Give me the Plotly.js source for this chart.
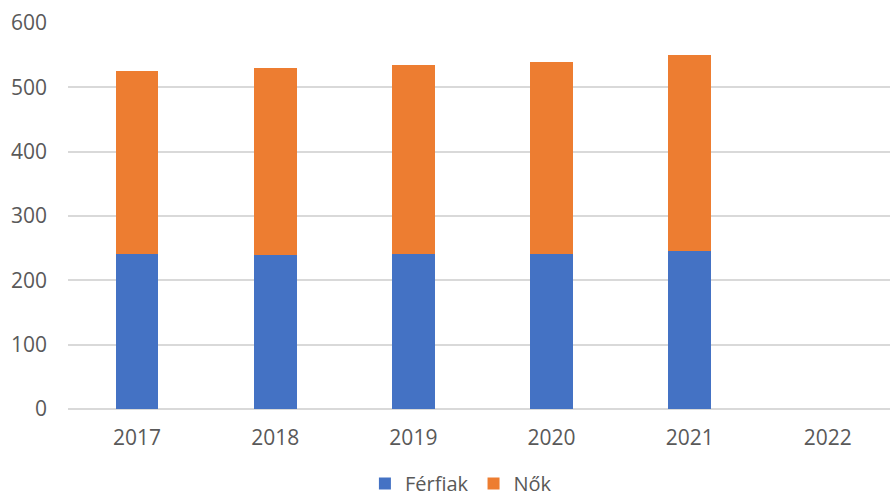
<!DOCTYPE html>
<html>
<head>
<meta charset="utf-8">
<script src="https://cdn.plot.ly/plotly-3.0.1.min.js"></script>
<style>html,body{margin:0;padding:0;background:#fff;overflow:hidden}</style>
</head>
<body>
<div id="chart" style="width:890px;height:503px"></div>
<script>
const years = ["2017", "2018", "2019", "2020", "2021", "2022"];
const ferfiak = [241, 239, 241, 241, 245, null];
const nok = [285, 291, 293, 299, 305, null];
const yTicks = [0, 100, 200, 300, 400, 500, 600];

const tickFont = {family: "Segoe UI, Open Sans, Noto Sans, sans-serif", size: 21, color: "#595959"};
const legendFont = {family: "Segoe UI, Open Sans, Noto Sans, sans-serif", size: 20, color: "#595959"};

const data = [
  {type: "bar", name: "Férfiak", x: years, y: ferfiak, marker: {color: "#4472C4"}},
  {type: "bar", name: "Nők", x: years, y: nok, marker: {color: "#ED7D31"}}
];

const layout = {
  width: 890, height: 503,
  barmode: "stack",
  bargap: 0.69,
  paper_bgcolor: "#fff", plot_bgcolor: "#fff",
  font: tickFont,
  margin: {l: 68, r: 0, t: 23, b: 94},
  xaxis: {type: "category", range: [-0.5, 5.45], showgrid: false, showline: false, zeroline: false, ticks: "", tickfont: tickFont, ticklabelstandoff: 14, automargin: false},
  yaxis: {range: [0, 600], tickvals: yTicks, showgrid: true, gridcolor: "#d9d9d9", gridwidth: 2, zeroline: true, zerolinecolor: "#d9d9d9", zerolinewidth: 2, showline: false, ticks: "", tickfont: tickFont, ticklabelstandoff: 20, automargin: false},
  legend: {orientation: "h", x: 0.478, xanchor: "center", yref: "container", y: 0, yanchor: "bottom", font: legendFont, itemwidth: 30, traceorder: "normal"},
  showlegend: true
};

Plotly.newPlot("chart", data, layout, {displayModeBar: false, staticPlot: true});
</script>
</body>
</html>
